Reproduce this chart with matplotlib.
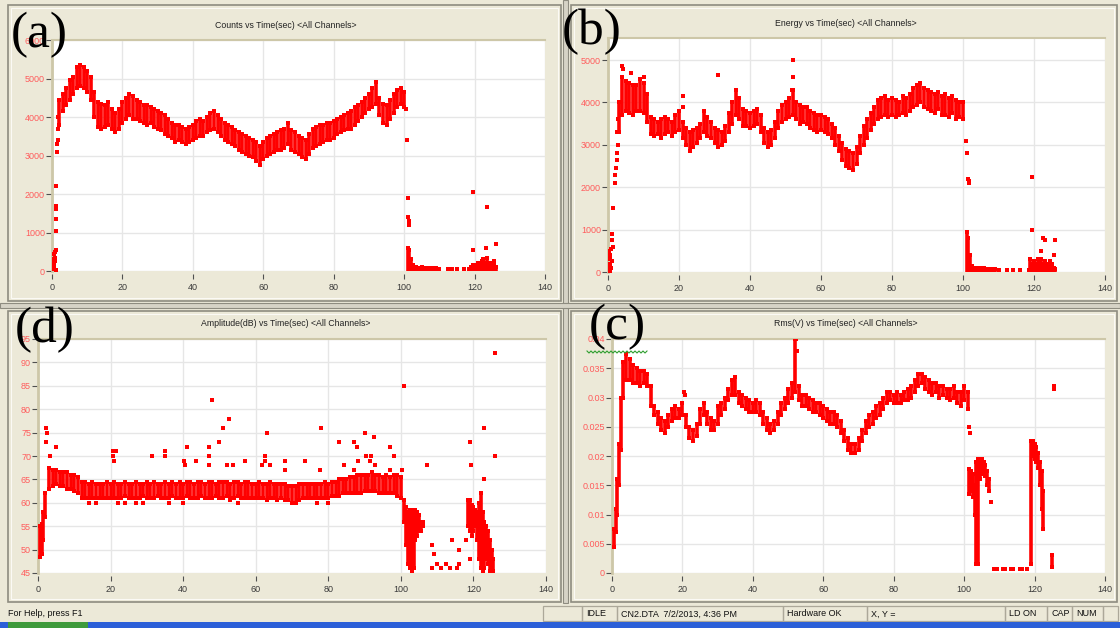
import numpy as np
import matplotlib as mpl
mpl.use('Agg')
import matplotlib.pyplot as plt
from matplotlib.patches import Rectangle

plt.rcParams['font.family'] = ['Liberation Sans', 'DejaVu Sans']

W, H = 1120, 628
BG = '#ece9d8'
RED = '#ff0000'

# ---------------- data ----------------
x_ticks = [0, 20, 40, 60, 80, 100, 120, 140]

# (a) Counts vs Time - main band, one column per second
cnt_t = np.arange(2, 101)
cnt_lo = [3800, 4150, 4300, 4450, 4600, 4750, 4800, 4750, 4650, 4450,
          4000, 3750, 3700, 3750, 3800, 3700, 3600, 3700, 3850, 3950,
          4050, 3950, 3950, 3900, 3850, 3800, 3850, 3750, 3700, 3650,
          3550, 3500, 3450, 3350, 3400, 3350, 3300, 3350, 3400, 3450,
          3500, 3500, 3600, 3650, 3700, 3600, 3500, 3400, 3350, 3300,
          3250, 3150, 3100, 3050, 3000, 2950, 2850, 2750, 2900, 3000,
          3050, 3100, 3150, 3150, 3200, 3300, 3150, 3100, 3050, 2950,
          2900, 3050, 3200, 3250, 3300, 3350, 3400, 3400, 3450, 3550,
          3600, 3650, 3700, 3700, 3800, 3900, 4000, 4100, 4200, 4250,
          4350, 4050, 3850, 3800, 3950, 4100, 4250, 4350, 4250]
cnt_hi = [4450, 4600, 4750, 4950, 5050, 5300, 5350, 5300, 5200, 5050,
          4650, 4400, 4350, 4300, 4400, 4200, 4100, 4200, 4400, 4500,
          4600, 4550, 4450, 4400, 4300, 4300, 4250, 4200, 4150, 4100,
          4050, 3950, 3850, 3800, 3800, 3750, 3700, 3750, 3800, 3900,
          3950, 3900, 4000, 4100, 4150, 4050, 3950, 3850, 3800, 3750,
          3650, 3600, 3550, 3500, 3450, 3400, 3350, 3250, 3350, 3450,
          3500, 3550, 3600, 3650, 3700, 3850, 3650, 3600, 3500, 3450,
          3400, 3550, 3700, 3750, 3800, 3800, 3850, 3850, 3900, 3950,
          4000, 4050, 4100, 4150, 4250, 4300, 4400, 4500, 4600, 4750,
          4900, 4500, 4350, 4300, 4450, 4600, 4700, 4750, 4650]
cnt_pt_t = [0.3, 0.4, 0.5, 0.6, 0.7, 0.8, 0.9, 1.0, 1.0, 0.6,
            0.8, 1.1, 1.1, 1.2, 1.2, 1.1, 1.5, 1.6, 1.7, 1.4,
            1.8, 100.6, 100.8, 101.0, 101.2, 101.3, 101.4, 119.5, 119.6, 123.5,
            123.2, 126.0, 125.5]
cnt_pt_v = [50, 300, 150, 450, 100, 350, 250, 550, 30, 200,
            500, 1050, 1350, 1600, 1700, 2200, 3100, 3400, 3700, 3300,
            4000, 4200, 3400, 1900, 1400, 1300, 1200, 2050, 550, 1650,
            600, 700, 250]
cnt_tail_t = [101.0, 101.5, 102.0, 102.5, 103.0, 103.5, 104.0, 104.5, 105.0, 105.5,
              106.0, 106.5, 107.0, 107.5, 108.0, 108.5, 109.0, 110.0, 112.5, 113.5,
              115.0, 117.0, 118.5, 119.0, 119.5, 120.0, 120.5, 121.0, 121.5, 122.0,
              122.5, 123.0, 123.5, 124.0, 124.5, 125.0, 125.5, 126.0]
cnt_tail_hi = [600, 550, 300, 150, 100, 100, 90, 80, 100, 80,
               90, 70, 80, 60, 80, 60, 70, 50, 40, 40,
               40, 40, 50, 100, 150, 120, 150, 200, 150, 250,
               300, 200, 350, 150, 200, 120, 150, 100]

# (b) Energy vs Time
en_t = np.arange(3, 101)
en_lo = [3300, 3700, 3800, 3750, 3700, 3800, 3800, 3750, 3550, 3250,
         3200, 3250, 3150, 3250, 3300, 3200, 3300, 3350, 3150, 3000,
         2850, 2950, 3050, 3150, 3300, 3200, 3150, 3050, 2950, 3000,
         3100, 3300, 3500, 3700, 3600, 3450, 3450, 3400, 3450, 3500,
         3300, 3050, 2950, 3000, 3150, 3400, 3550, 3600, 3650, 3700,
         3600, 3500, 3550, 3500, 3400, 3350, 3300, 3350, 3300, 3250,
         3150, 3000, 2850, 2650, 2500, 2450, 2400, 2550, 2800, 3000,
         3150, 3350, 3500, 3600, 3650, 3700, 3650, 3700, 3650, 3700,
         3750, 3700, 3800, 3900, 3950, 4000, 3900, 3850, 3800, 3750,
         3850, 3700, 3700, 3650, 3750, 3600, 3650, 3600]
en_hi = [4000, 4600, 4500, 4450, 4400, 4400, 4550, 4450, 4200, 3650,
         3600, 3550, 3600, 3650, 3600, 3550, 3700, 3800, 3550, 3400,
         3300, 3350, 3400, 3500, 3800, 3650, 3550, 3400, 3350, 3300,
         3450, 3750, 4000, 4300, 4100, 3850, 3800, 3750, 3800, 3850,
         3700, 3400, 3300, 3350, 3550, 3800, 3950, 4000, 4100, 4300,
         4000, 3950, 3900, 3900, 3800, 3750, 3700, 3700, 3650, 3600,
         3500, 3400, 3200, 3050, 2900, 2850, 2800, 2950, 3200, 3450,
         3600, 3750, 3900, 4050, 4100, 4150, 4050, 4100, 4050, 4000,
         4150, 4100, 4200, 4350, 4400, 4450, 4350, 4300, 4250, 4200,
         4250, 4150, 4200, 4100, 4150, 4050, 4000, 4000]
en_pt_t = [0.2, 0.3, 0.4, 0.5, 0.6, 0.7, 0.8, 0.9, 1.0, 0.5,
           1.1, 1.2, 1.3, 0.3, 1.5, 2.0, 2.1, 2.3, 2.5, 2.6,
           2.7, 2.5, 2.8, 3.9, 4.2, 6.5, 10.2, 21.0, 21.0, 31.0,
           52.0, 52.0, 51.8, 100.8, 101.2, 101.5, 101.6, 101.8, 119.5, 119.5,
           122.5, 123.0, 122.0, 126.0, 125.5, 125.0]
en_pt_v = [50, 150, 300, 30, 200, 400, 100, 550, 250, 350,
           750, 900, 600, 500, 1500, 2100, 2300, 2450, 2650, 2800,
           3000, 3300, 3600, 4850, 4800, 4700, 4600, 4150, 3900, 4650,
           5000, 4600, 4300, 3100, 2800, 2200, 2150, 2100, 2250, 1000,
           800, 750, 500, 750, 400, 200]
en_tail_t = [101.0, 101.5, 102.0, 102.5, 103.0, 103.5, 104.0, 104.5, 105.0, 105.5,
             106.0, 106.5, 107.0, 107.5, 108.0, 108.5, 109.0, 110.0, 112.5, 114.0,
             116.0, 118.5, 119.0, 119.5, 120.0, 120.5, 121.0, 121.5, 122.0, 122.5,
             123.0, 123.5, 124.0, 124.5, 125.0, 125.5, 126.0]
en_tail_hi = [950, 800, 400, 150, 100, 100, 90, 80, 100, 80,
              90, 70, 80, 60, 80, 60, 70, 50, 40, 40,
              40, 50, 300, 200, 250, 200, 300, 250, 300, 200,
              250, 150, 200, 250, 150, 100, 80]

# (d) Amplitude(dB) vs Time
amp_t = np.arange(3, 101)
amp_lo = [63, 63.5, 64, 63.5, 63.5, 63, 63, 62.5, 62, 61,
          61, 61, 61, 61, 61, 61, 61, 61, 61, 61,
          61, 61.5, 61, 61, 61, 61, 61.5, 61, 61, 61,
          61.5, 61, 61, 61, 61.5, 61, 61, 61, 61.5, 61,
          61, 61, 61.5, 61, 61, 61, 61.5, 61, 61, 61.5,
          61, 61, 61.5, 61, 61, 61, 61, 61, 61, 61,
          60.5, 61, 61, 60.5, 61, 60.5, 60.5, 60, 60, 60.5,
          61, 61, 61, 61, 61, 61, 61, 61, 61.5, 61.5,
          61.5, 62, 62, 62, 62, 62, 62, 62.5, 62.5, 62.5,
          62.5, 62, 62, 62, 62, 62, 61.5, 61]
amp_hi = [67.5, 67, 67, 66.5, 66.5, 66.5, 66, 66, 65.5, 64.5,
          64.5, 64, 64.5, 64, 64, 64, 64.5, 64, 64.5, 64,
          64, 64.5, 64, 64, 64.5, 64, 64, 64.5, 64, 64.5,
          64, 64, 64.5, 64, 64.5, 64, 64.5, 64, 64.5, 64.5,
          64, 64.5, 64.5, 64, 64.5, 64.5, 64, 64.5, 64.5, 64.5,
          64, 64.5, 64.5, 64, 64.5, 64.5, 64, 64, 64.5, 64,
          64, 64.5, 64, 64, 64, 64, 63.5, 63.5, 63.5, 64,
          64, 64, 64, 64, 64, 64, 64.5, 64, 64.5, 64.5,
          65, 65, 65, 65.5, 65.5, 66, 66, 66, 66, 66.5,
          66, 66, 65.5, 66, 65.5, 66, 66, 65.5]
amp_tail_t = [0.5, 1.0, 1.5, 2.0, 101.0, 101.5, 102.0, 102.5, 103.0, 103.5,
              104.0, 104.5, 105.0, 105.5, 106.0, 118.5, 119.0, 119.5, 120.0, 120.5,
              121.0, 121.5, 122.0, 122.5, 123.0, 123.5, 124.0, 124.5, 125.0, 125.5]
amp_tail_lo = [48.5, 49, 52, 57, 56, 51, 47, 46, 45.5, 46,
               52, 53, 54, 54, 55, 55, 54, 53, 54, 55,
               52, 48, 46, 45.5, 46, 48, 47, 45.5, 46, 45.5]
amp_tail_hi = [55, 55.5, 58, 62, 60.5, 59, 58, 58.5, 58, 58.5,
               58.5, 58, 57.5, 56, 56, 60.5, 60.5, 59.5, 59, 58.5,
               58, 60, 62, 58, 56, 55, 54, 52, 50, 48]
amp_pt_t = [2.1, 2.6, 2.1, 5.0, 3.3, 20.8, 20.8, 21.5, 21.0, 31.5,
            35.0, 35.0, 40.2, 40.4, 41.0, 43.5, 47.0, 47.2, 47.2, 48.0,
            50.0, 51.0, 52.0, 52.5, 53.7, 57.1, 61.7, 62.5, 62.5, 63.0,
            64.0, 68.2, 68.2, 73.7, 77.7, 78.0, 83.0, 84.2, 87.0, 87.0,
            88.0, 88.2, 90.0, 90.3, 91.6, 91.9, 92.5, 92.8, 97.0, 97.0,
            98.0, 100.2, 101.0, 107.1, 108.5, 109.0, 110.0, 112.5, 114.0, 116.0,
            116.0, 118.0, 119.0, 119.4, 119.0, 122.8, 123.0, 126.0, 126.0, 108.6,
            111.0, 113.5, 115.5]
amp_pt_v = [76, 75, 73, 72, 70, 70, 71, 71, 69, 70,
            70, 71, 69, 68, 72, 69, 72, 70, 68, 82,
            73, 76, 68, 78, 68, 69, 68, 70, 69, 75,
            68, 69, 67, 69, 67, 76, 73, 68, 67, 73,
            72, 69, 75, 70, 69, 70, 74, 68, 67, 72,
            70, 67, 85, 68, 51, 49, 47, 47, 52, 50,
            47, 52, 48, 68, 73, 65, 76, 70, 92, 46,
            46, 46, 46]
amp_floor_t = [14, 16, 22, 24, 27, 29, 36, 40, 53, 55, 77, 80]
amp_floor_v = [60, 60, 60, 60, 60, 60, 60, 60, 60.5, 60, 60, 60]

# (c) Rms(V) vs Time, values in mV
rms_t = np.arange(3, 102)
rms_lo = [30, 33, 33, 32.5, 32.5, 32, 32.5, 32, 28.5, 27,
          25.5, 24.5, 24, 25, 26, 26.5, 26.5, 27, 25, 23,
          22.5, 23.5, 25.5, 27, 25.5, 24.5, 24.5, 25.5, 27, 28,
          29.5, 30.5, 30.5, 29, 28.5, 28, 27.5, 27.5, 27.5, 27,
          25.5, 24.5, 24, 24.5, 25.5, 27, 28, 29, 30, 31,
          29.5, 28.5, 28.5, 28, 27.5, 27.5, 27, 26.5, 26, 25.5,
          25.5, 25, 24, 22.5, 21, 20.5, 20.5, 21, 22.5, 24,
          25, 25.5, 26.5, 27, 28, 29, 29.5, 29, 29, 29,
          29.5, 29.5, 30, 31, 32, 32.5, 31.5, 31, 30.5, 31,
          30, 30.5, 30, 29.5, 30, 29, 28.5, 29.5, 28]
rms_hi = [36, 37.5, 36.5, 35.5, 35, 34.5, 34.5, 34, 32, 28.5,
          27.5, 26.5, 26, 27, 28, 28.5, 28, 29, 27, 25,
          24.5, 25.5, 28, 29, 27.5, 26.5, 26, 28.5, 29, 30,
          31.5, 33, 33.5, 31, 30.5, 30, 29.5, 29, 29.5, 29,
          27.5, 26.5, 25.5, 26, 27.5, 29, 30, 31.5, 32.5, 40,
          32, 30.5, 30.5, 30, 29.5, 29, 29, 28.5, 28, 27.5,
          27.5, 27, 26, 24.5, 23, 22, 22, 23, 24.5, 26,
          27, 27.5, 28.5, 29, 30, 31, 31, 30.5, 31, 30.5,
          31, 31.5, 32, 33, 34, 34, 33.5, 33, 32.5, 32.5,
          32, 32, 31.5, 31.5, 32, 31, 31, 32, 31]
rms_tail_t = [0.5, 1.0, 1.5, 2.0, 2.5, 101.5, 102.0, 102.5, 103.0, 103.5,
              104.0, 104.5, 105.0, 105.5, 106.0, 106.5, 107.0, 119.0, 119.5, 120.0,
              120.5, 121.0, 121.5, 122.0, 122.5, 125.0]
rms_tail_lo = [4.5, 7, 10, 15, 21, 13.5, 14, 13, 10, 1.5,
               1.5, 16, 17, 17.5, 16.5, 15, 14, 1.5, 20, 19.5,
               19, 18, 15, 11, 7.5, 1]
rms_tail_hi = [7.5, 11, 16, 22, 30, 17.8, 17.5, 17, 15, 19,
               19.5, 19.5, 19.5, 19, 18.5, 17.5, 16, 22.5, 22.5, 22,
               21.5, 20.5, 19, 17.5, 14, 3]
rms_pt_t = [20.5, 20.7, 52.2, 52.4, 101.3, 101.6, 107.5, 108.6, 109.2, 111.0,
            111.6, 113.4, 114.0, 115.8, 116.4, 117.8, 125.5, 125.5]
rms_pt_v = [31, 30.5, 40, 38, 25, 24, 12.2, 0.7, 0.7, 0.6,
            0.6, 0.7, 0.7, 0.6, 0.6, 0.7, 32, 31.5]

status_items = [(543, 582, ''), (582, 617, 'IDLE'), (617, 783, 'CN2.DTA  7/2/2013, 4:36 PM'),
                (783, 867, 'Hardware OK'), (867, 1005, 'X, Y ='), (1005, 1047, 'LD ON'),
                (1047, 1072, 'CAP'), (1072, 1103, 'NUM'), (1103, 1118, '')]

# ---------------- figure ----------------
fig = plt.figure(figsize=(W / 100, H / 100), dpi=100, facecolor=BG)

# background layer in pixel coordinates
bg = fig.add_axes([0, 0, 1, 1], zorder=-10)
bg.set_xlim(0, W)
bg.set_ylim(H, 0)
bg.axis('off')


def box(x0, y0, x1, y1, ec='#9a988c', fc='none', lw=1.0):
    bg.add_patch(Rectangle((x0, y0), x1 - x0, y1 - y0, ec=ec, fc=fc, lw=lw))


# panel frames
for (x0, y0, x1, y1) in [(8, 5, 561, 301), (571, 5, 1117, 301),
                         (8, 311, 561, 602), (571, 311, 1117, 602)]:
    box(x0, y0, x1, y1, ec='#8e8c80', lw=1.2)
    box(x0 + 3, y0 + 3, x1 - 3, y1 - 3, ec='#fbfaf5', lw=0.8)
# splitters
box(563, 0, 568, 603, ec='#8e8c80', fc='#d6d3c6', lw=0.8)
box(0, 303, W, 308, ec='#8e8c80', fc='#d6d3c6', lw=0.8)

# status bar
bg.text(8, 614, 'For Help, press F1', fontsize=6.5, va='center', ha='left', color='#111111')
for x0, x1, label in status_items:
    box(x0, 606, x1, 621, ec='#aca899', lw=0.9)
    if label:
        bg.text(x0 + 4, 614, label, fontsize=6.5, va='center', ha='left', color='#111111')
bg.add_patch(Rectangle((0, 622), W, 6, fc='#2b5fd8', ec='none'))
bg.add_patch(Rectangle((8, 622), 80, 6, fc='#3e9a3c', ec='none'))


def make_axes(rect, title, title_xy, ylim, yticks, ylabels):
    L, T, R, B = rect
    ax = fig.add_axes([L / W, 1 - B / H, (R - L) / W, (B - T) / H])
    ax.set_facecolor('white')
    ax.set_xlim(0, 140)
    ax.set_ylim(*ylim)
    ax.set_xticks(x_ticks)
    ax.set_xticklabels([str(v) for v in x_ticks])
    ax.set_yticks(yticks)
    ax.set_yticklabels(ylabels)
    ax.grid(True, color='#e6e6e6', lw=1.0)
    ax.set_axisbelow(True)
    ax.spines['right'].set_visible(False)
    ax.spines['bottom'].set_visible(False)
    ax.spines['bottom'].set_position(('outward', 2.5))
    ax.spines['left'].set_color('#cdc7a8')
    ax.spines['left'].set_linewidth(2.0)
    ax.spines['top'].set_color('#cdc7a8')
    ax.spines['top'].set_linewidth(1.5)
    ax.tick_params(axis='x', direction='out', length=3.5, width=0.8, color='#505050',
                   pad=2.5, labelsize=6.5, labelcolor='#3a3a3a')
    ax.tick_params(axis='y', direction='out', length=4, width=0.8, color='#505050',
                   pad=1, labelsize=6.5, labelcolor='#ff5c5c')
    bg.text(title_xy[0], title_xy[1], title, fontsize=6.3, ha='center', va='center',
            color='#222222')
    return ax


def draw_band(ax, t, lo, hi):
    ax.vlines(t, lo, hi, colors=RED, lw=2.6, zorder=3)
    ax.scatter(t, lo, s=9, marker='s', c=RED, linewidths=0, zorder=3)
    ax.scatter(t, hi, s=9, marker='s', c=RED, linewidths=0, zorder=3)


def draw_points(ax, t, v):
    ax.scatter(t, v, s=11, marker='s', c=RED, linewidths=0, zorder=3)


# (a) Counts
ax_a = make_axes((52, 40, 545, 271), 'Counts vs Time(sec) <All Channels>', (286, 25),
                 (0, 6000), [0, 1000, 2000, 3000, 4000, 5000, 6000],
                 ['0', '1000', '2000', '3000', '4000', '5000', '6000'])
draw_band(ax_a, cnt_t, cnt_lo, cnt_hi)
ax_a.vlines(cnt_tail_t, 0, cnt_tail_hi, colors=RED, lw=2.6, zorder=3)
draw_points(ax_a, cnt_tail_t, cnt_tail_hi)
draw_points(ax_a, cnt_pt_t, cnt_pt_v)

# (b) Energy
ax_b = make_axes((608, 38, 1105, 272), 'Energy vs Time(sec) <All Channels>', (846, 23),
                 (0, 5520), [0, 1000, 2000, 3000, 4000, 5000],
                 ['0', '1000', '2000', '3000', '4000', '5000'])
draw_band(ax_b, en_t, en_lo, en_hi)
ax_b.vlines(en_tail_t, 0, en_tail_hi, colors=RED, lw=2.6, zorder=3)
draw_points(ax_b, en_tail_t, en_tail_hi)
draw_points(ax_b, en_pt_t, en_pt_v)

# (d) Amplitude
amp_ticks = [45, 50, 55, 60, 65, 70, 75, 80, 85, 90, 95]
ax_d = make_axes((38, 339, 546, 573), 'Amplitude(dB) vs Time(sec) <All Channels>', (286, 323),
                 (45, 95), amp_ticks, [str(v) for v in amp_ticks])
draw_band(ax_d, amp_t, amp_lo, amp_hi)
draw_band(ax_d, amp_tail_t, amp_tail_lo, amp_tail_hi)
draw_points(ax_d, amp_pt_t, amp_pt_v)
draw_points(ax_d, amp_floor_t, amp_floor_v)

# (c) Rms
rms_ticks = [0, 0.005, 0.01, 0.015, 0.02, 0.025, 0.03, 0.035, 0.04]
ax_c = make_axes((612, 339, 1105, 573), 'Rms(V) vs Time(sec) <All Channels>', (846, 323),
                 (0, 0.04), rms_ticks,
                 ['0', '0.005', '0.01', '0.015', '0.02', '0.025', '0.03', '0.035', '0.04'])
draw_band(ax_c, rms_t, np.array(rms_lo) / 1000, np.array(rms_hi) / 1000)
draw_band(ax_c, rms_tail_t, np.array(rms_tail_lo) / 1000, np.array(rms_tail_hi) / 1000)
draw_points(ax_c, rms_pt_t, np.array(rms_pt_v) / 1000)

# overlay layer: panel letters and the spell-check squiggle
top = fig.add_axes([0, 0, 1, 1], zorder=10)
top.set_xlim(0, W)
top.set_ylim(H, 0)
top.axis('off')
top.patch.set_alpha(0)
for label, x, y in [('(a)', 39, 35), ('(b)', 592, 32), ('(d)', 45, 330), ('(c)', 617, 327)]:
    top.text(x, y, label, fontsize=37, family='Liberation Serif', ha='center', va='center',
             color='black')
sq_x = np.arange(587, 649, 2)
sq_y = 352 + np.where(np.arange(sq_x.size) % 2 == 0, -1.0, 1.0)
top.plot(sq_x, sq_y, color='#2e9e2e', lw=0.8)

fig.savefig('out.png', dpi=100, facecolor=BG)
